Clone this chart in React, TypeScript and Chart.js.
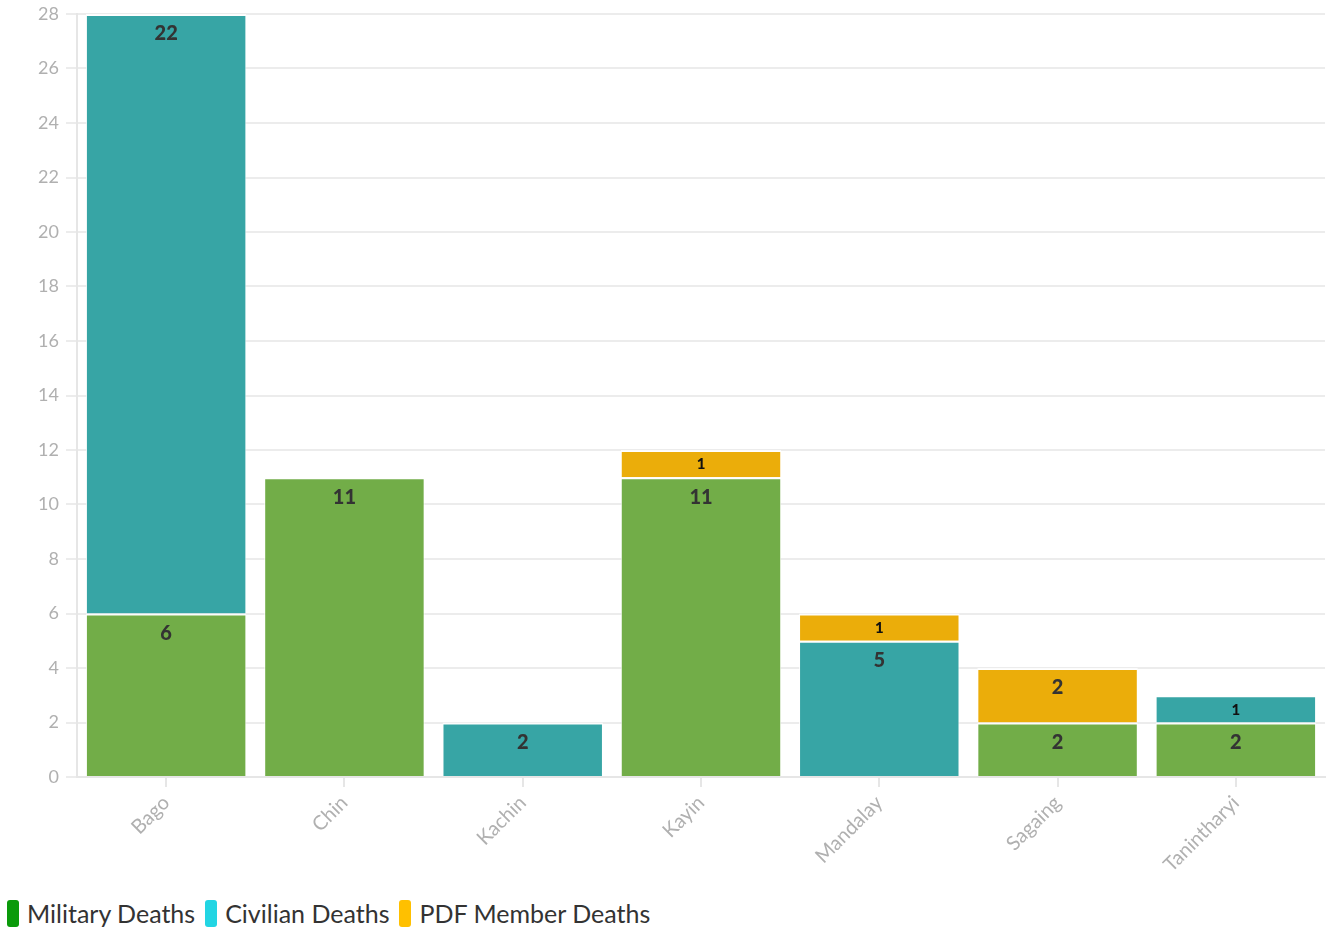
import React, { useEffect, useRef } from "react";
import { Chart, registerables } from "chart.js";

Chart.register(...registerables);

const regions = ["Bago", "Chin", "Kachin", "Kayin", "Mandalay", "Sagaing", "Tanintharyi"];
const militaryDeaths = [6, 11, null, 11, null, 2, 2];
const civilianDeaths = [22, null, 2, null, 5, null, 1];
const pdfMemberDeaths = [null, null, null, 1, 1, 2, null];

const seriesNames = ["Military Deaths", "Civilian Deaths", "PDF Member Deaths"];
const barColors = ["#72ad48", "#37a5a5", "#ebad0a"];
const legendColors = ["#0a9a0a", "#22d5e3", "#ffc000"];

const yTickMax = 28;
const yTickStep = 2;

const FONT = "Lato, 'Noto Sans', sans-serif";

// Draws each segment's value near the top of its bar piece
const valueLabels = {
  id: "valueLabels",
  afterDatasetsDraw(chart: any) {
    const { ctx } = chart;
    ctx.save();
    ctx.textAlign = "center";
    ctx.textBaseline = "middle";
    chart.data.datasets.forEach((ds: any, di: number) => {
      const meta = chart.getDatasetMeta(di);
      if (meta.hidden) return;
      meta.data.forEach((bar: any, i: number) => {
        const v = ds.data[i];
        if (v == null || v === 0) return;
        const top = Math.min(bar.y, bar.base);
        const h = Math.abs(bar.base - bar.y);
        const small = h < 34;
        ctx.font = small ? `900 15px ${FONT}` : `900 20px ${FONT}`;
        ctx.fillStyle = small ? "#111" : "#333";
        const y = top + Math.min(19, h / 2) + 1;
        ctx.fillText(String(v), bar.x, y);
      });
    });
    ctx.restore();
  },
};

export default function App() {
  const canvasRef = useRef<HTMLCanvasElement | null>(null);

  useEffect(() => {
    document.body.style.margin = "0";
    const canvas = canvasRef.current;
    if (!canvas) return;
    const datasetValues = [militaryDeaths, civilianDeaths, pdfMemberDeaths];
    const chart = new Chart(canvas, {
      type: "bar",
      data: {
        labels: regions,
        datasets: datasetValues.map((d, i) => ({
          label: seriesNames[i],
          data: d,
          backgroundColor: barColors[i],
          borderColor: "rgba(255,255,255,0.85)",
          borderWidth: { top: 2, left: 1, right: 1, bottom: 0 },
          borderSkipped: false,
          barPercentage: 1,
          categoryPercentage: 0.9,
        })),
      },
      options: {
        animation: false,
        responsive: false,
        maintainAspectRatio: false,
        layout: { padding: { top: 14, right: 3, left: 0, bottom: 0 } },
        scales: {
          x: {
            stacked: true,
            grid: {
              display: true,
              drawOnChartArea: false,
              drawTicks: true,
              tickLength: 10,
              offset: false,
              color: "#e6e6e6",
              lineWidth: 2,
            },
            border: { display: true, color: "#e6e6e6", width: 2 },
            ticks: {
              maxRotation: 45,
              minRotation: 45,
              padding: 4,
              color: "#b0b0b0",
              font: { family: FONT, size: 20 },
            },
            afterFit: (s: any) => {
              s.height = 103;
              s.paddingLeft = 0;
              s.paddingRight = 0;
            },
          },
          y: {
            stacked: true,
            min: 0,
            max: yTickMax,
            ticks: {
              stepSize: yTickStep,
              padding: 7,
              color: "#b0b0b0",
              font: { family: FONT, size: 18 },
            },
            grid: {
              color: "#ececec",
              lineWidth: 2,
              tickLength: 11,
            },
            border: { display: true, color: "#e6e6e6", width: 2 },
            afterFit: (s: any) => {
              s.width = 77;
              s.paddingTop = 0;
              s.paddingBottom = 0;
            },
          },
        },
        plugins: {
          tooltip: { enabled: false },
          legend: { display: false },
        },
      },
      plugins: [valueLabels],
    } as any);
    return () => chart.destroy();
  }, []);

  return (
    <div style={{ position: "relative", width: 1328, height: 933, fontFamily: FONT }}>
      <canvas ref={canvasRef} width={1328} height={880} style={{ display: "block" }} />
      <div
        style={{
          position: "absolute",
          left: 7,
          top: 899,
          display: "flex",
          alignItems: "center",
          fontSize: 25,
          color: "#333",
          lineHeight: "28px",
        }}
      >
        {seriesNames.map((name, i) => (
          <div key={name} style={{ display: "flex", alignItems: "center", marginRight: 10 }}>
            <span
              style={{
                display: "inline-block",
                width: 12,
                height: 27,
                borderRadius: 3,
                background: legendColors[i],
                marginRight: 8,
              }}
            />
            <span>{name}</span>
          </div>
        ))}
      </div>
    </div>
  );
}
